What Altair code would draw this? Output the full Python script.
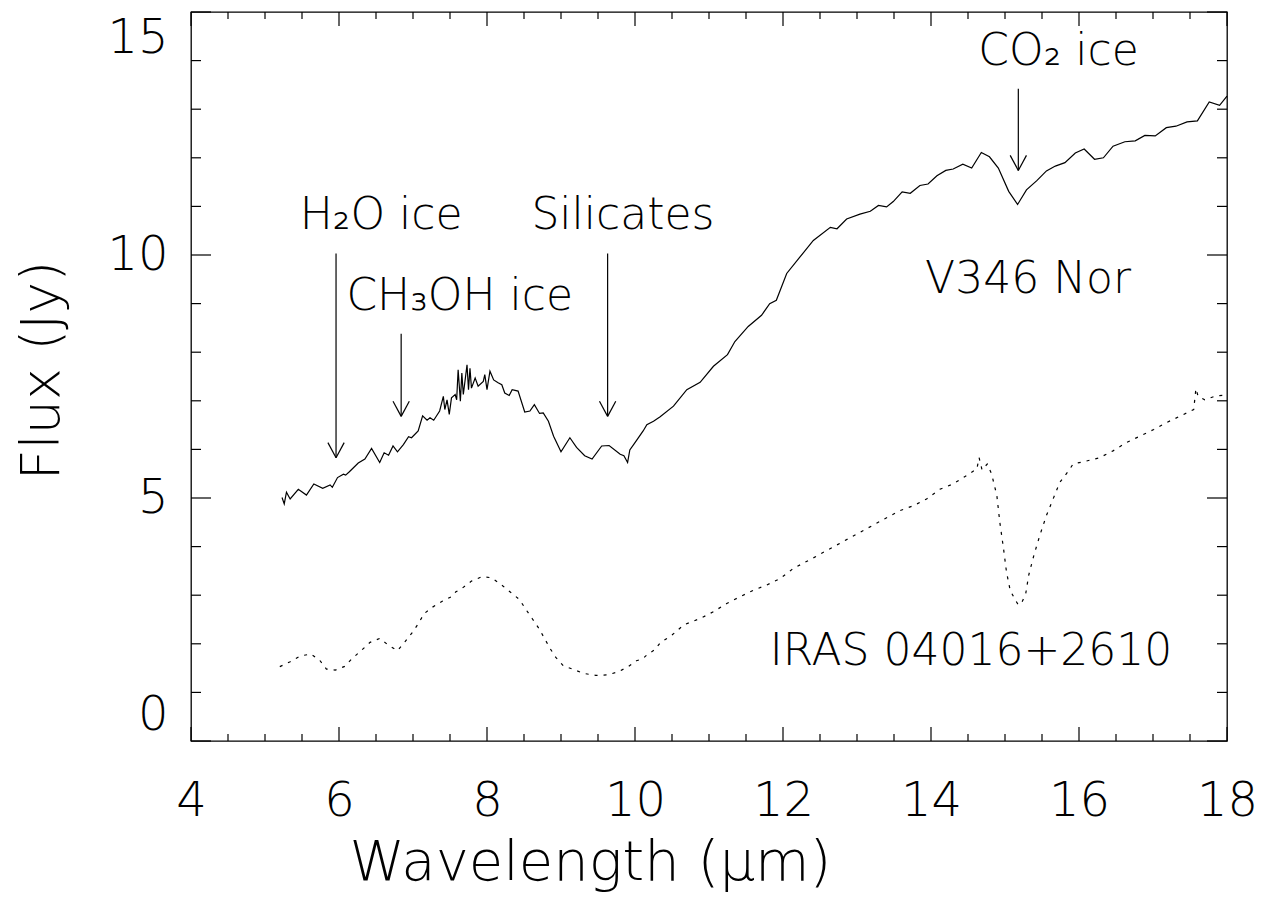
import altair as alt
import pandas as pd

# ---------------- data ----------------
v346_wl = [5.23, 5.26, 5.29, 5.34, 5.45, 5.56, 5.66, 5.78, 5.88, 5.91, 5.98, 6.06, 6.09, 6.14,
           6.26, 6.35, 6.44, 6.55, 6.61, 6.67, 6.73, 6.79, 6.87, 6.94, 6.98, 7.07, 7.13, 7.19,
           7.23, 7.28, 7.36, 7.41, 7.43, 7.46, 7.49, 7.52, 7.57, 7.59, 7.61, 7.64, 7.66, 7.68,
           7.73, 7.75, 7.77, 7.79, 7.84, 7.88, 7.95, 7.97, 8.00, 8.04, 8.09, 8.15, 8.20, 8.24,
           8.30, 8.34, 8.42, 8.51, 8.58, 8.64, 8.71, 8.76, 8.83, 8.90, 9.00, 9.12, 9.21, 9.32,
           9.42, 9.55, 9.65, 9.80, 9.85, 9.90, 9.93, 10.00, 10.11, 10.16, 10.25, 10.34, 10.52,
           10.70, 10.88, 11.06, 11.25, 11.35, 11.53, 11.71, 11.82, 11.91, 12.05, 12.23, 12.41,
           12.64, 12.73, 12.86, 13.04, 13.18, 13.29, 13.40, 13.49, 13.61, 13.72, 13.85, 13.96,
           14.08, 14.20, 14.30, 14.43, 14.55, 14.68, 14.79, 14.91, 15.05, 15.17, 15.29, 15.43,
           15.56, 15.68, 15.81, 15.95, 16.07, 16.21, 16.33, 16.46, 16.62, 16.76, 16.89, 17.03,
           17.18, 17.31, 17.46, 17.60, 17.76, 17.90, 18.00]
v346_flux = [5.01, 4.88, 5.12, 4.98, 5.18, 5.06, 5.29, 5.20, 5.27, 5.22, 5.42, 5.49, 5.47, 5.54,
             5.72, 5.80, 6.02, 5.73, 5.93, 5.88, 6.07, 5.95, 6.10, 6.26, 6.24, 6.38, 6.69, 6.60,
             6.65, 6.60, 6.79, 7.09, 6.82, 7.02, 6.72, 7.06, 7.13, 7.02, 7.64, 6.99, 7.57, 7.13,
             7.74, 7.23, 7.67, 7.26, 7.47, 7.30, 7.40, 7.54, 7.23, 7.61, 7.43, 7.37, 7.33, 7.16,
             7.11, 7.23, 7.20, 6.77, 6.79, 6.92, 6.74, 6.75, 6.58, 6.27, 5.95, 6.24, 6.04, 5.87,
             5.80, 6.07, 6.08, 5.90, 5.87, 5.73, 5.99, 6.14, 6.38, 6.51, 6.58, 6.67, 6.89,
             7.23, 7.38, 7.71, 7.95, 8.22, 8.53, 8.76, 9.00, 9.07, 9.62, 9.96, 10.30,
             10.57, 10.54, 10.74, 10.84, 10.90, 11.02, 10.99, 11.10, 11.30, 11.27, 11.43, 11.46,
             11.63, 11.74, 11.77, 11.87, 11.79, 12.11, 12.02, 11.79, 11.31, 11.04, 11.34, 11.53,
             11.73, 11.83, 11.90, 12.10, 12.18, 11.97, 12.00, 12.24, 12.33, 12.35, 12.46, 12.45,
             12.62, 12.65, 12.74, 12.76, 13.15, 13.08, 13.27]

iras_wl = [5.20, 5.34, 5.48, 5.62, 5.74, 5.83, 5.95, 6.07, 6.18, 6.30, 6.42, 6.55, 6.67, 6.79,
           6.89, 6.99, 7.07, 7.15, 7.27, 7.40, 7.52, 7.58, 7.67, 7.79, 7.93, 8.06, 8.19, 8.31,
           8.44, 8.52, 8.61, 8.70, 8.77, 8.85, 8.93, 9.03, 9.17, 9.31, 9.47, 9.62, 9.77, 9.91,
           10.02, 10.11, 10.16, 10.27, 10.34, 10.50, 10.66, 10.88, 11.06, 11.24, 11.42, 11.60,
           11.78, 11.96, 12.14, 12.40, 12.70, 13.00, 13.30, 13.58, 13.76, 13.94, 14.12, 14.30,
           14.48, 14.62, 14.65, 14.69, 14.76, 14.82, 14.89, 14.93, 14.98, 15.02, 15.07, 15.14,
           15.18, 15.23, 15.28, 15.32, 15.39, 15.47, 15.56, 15.65, 15.74, 15.86, 15.92, 16.10,
           16.28, 16.46, 16.64, 16.82, 17.01, 17.18, 17.36, 17.55, 17.58, 17.61, 17.70, 17.85,
           18.00]
iras_flux = [1.53, 1.63, 1.75, 1.79, 1.66, 1.48, 1.46, 1.53, 1.70, 1.86, 2.03, 2.11, 1.97, 1.86,
             2.04, 2.23, 2.41, 2.62, 2.76, 2.88, 2.97, 3.07, 3.15, 3.29, 3.38, 3.36, 3.22, 3.07,
             2.91, 2.72, 2.52, 2.32, 2.13, 1.91, 1.72, 1.55, 1.47, 1.39, 1.35, 1.36, 1.42, 1.53,
             1.65, 1.70, 1.77, 1.88, 2.02, 2.18, 2.39, 2.52, 2.66, 2.83, 2.97, 3.10,
             3.21, 3.34, 3.55, 3.76, 4.01, 4.26, 4.51, 4.74, 4.84, 4.98, 5.18, 5.29,
             5.46, 5.60, 5.83, 5.58, 5.70, 5.49, 5.05, 4.50, 3.96, 3.48, 3.10, 2.90,
             2.80, 2.86, 3.03, 3.41, 3.82, 4.23, 4.64, 4.98, 5.32, 5.56, 5.70, 5.76,
             5.83, 5.97, 6.14, 6.27, 6.41, 6.55, 6.68, 6.82, 7.25, 7.09, 7.02, 7.10,
             7.12]

x_major = [4, 6, 8, 10, 12, 14, 16, 18]
x_minor = [4.5, 5, 5.5, 6.5, 7, 7.5, 8.5, 9, 9.5, 10.5, 11, 11.5, 12.5, 13, 13.5,
           14.5, 15, 15.5, 16.5, 17, 17.5]
y_major = [0, 5, 10, 15]
y_minor = [1, 2, 3, 4, 6, 7, 8, 9, 11, 12, 13, 14]

arrow_x = [5.96, 6.84, 9.63, 15.18]
arrow_top = [10.03, 8.38, 10.03, 13.42]
arrow_tip = [5.83, 6.68, 6.68, 11.74]

label_text = ["H\u2082O ice", "CH\u2083OH ice", "Silicates", "CO\u2082 ice", "V346 Nor", "IRAS 04016+2610"]
label_x = [5.47, 6.10, 8.60, 14.64, 13.92, 11.82]
label_y = [10.54, 8.87, 10.54, 13.91, 9.21, 1.56]

# ---------------- layout ----------------
W, H = 1036, 729
FONT = "DejaVu Sans"
FW = 200

xs = alt.Scale(domain=[4, 18], nice=False, zero=False)
ys = alt.Scale(domain=[0, 15], nice=False, zero=True)

v346 = pd.DataFrame({"wl": v346_wl, "flux": v346_flux})
iras = pd.DataFrame({"wl": iras_wl, "flux": iras_flux})

xaxis = alt.Axis(values=x_major, ticks=False, domain=False, grid=False,
                 labelFont=FONT, labelFontSize=48, labelFontWeight=FW, labelColor="black",
                 labelPadding=36, labelFlush=False,
                 title="Wavelength (\u03bcm)", titleFont=FONT, titleFontSize=56,
                 titleFontWeight=FW, titleColor="black", titleX=399, titleY=138,
                 titleAlign="center", titleBaseline="alphabetic")
yaxis = alt.Axis(values=y_major, ticks=False, domain=False, grid=False,
                 labelFont=FONT, labelFontSize=48, labelFontWeight=FW, labelColor="black",
                 labelPadding=23, labelFlush=True, labelFlushOffset=-2,
                 title="Flux (Jy)", titleFont=FONT, titleFontSize=54,
                 titleFontWeight=FW, titleColor="black", titleX=-133, titleY=358,
                 titleAngle=270, titleAlign="center", titleBaseline="alphabetic")


def X(field):
    return alt.X(field, scale=xs, axis=xaxis)


def Y(field):
    return alt.Y(field, scale=ys, axis=yaxis)


line_v346 = alt.Chart(v346).mark_line(color="black", strokeWidth=1.2).encode(
    x=X("wl:Q"), y=Y("flux:Q"), order="wl:Q",
)
line_iras = alt.Chart(iras).mark_line(color="black", strokeWidth=1.2, strokeDash=[3, 6]).encode(
    x=X("wl:Q"), y=Y("flux:Q"), order="wl:Q",
)

# arrows: shaft + two head wings
segs = []
for ax, at, tip in zip(arrow_x, arrow_top, arrow_tip):
    segs.append({"wl": ax, "wl2": ax, "flux": at, "flux2": tip})
    segs.append({"wl": ax - 0.11, "wl2": ax, "flux": tip + 0.31, "flux2": tip})
    segs.append({"wl": ax + 0.11, "wl2": ax, "flux": tip + 0.31, "flux2": tip})
arrows = alt.Chart(pd.DataFrame(segs)).mark_rule(color="black", strokeWidth=1.2).encode(
    x=X("wl:Q"), x2="wl2:Q", y=Y("flux:Q"), y2="flux2:Q",
)

labels = alt.Chart(pd.DataFrame({"t": label_text, "wl": label_x, "flux": label_y})).mark_text(
    font=FONT, fontSize=44, fontWeight=FW, color="black", align="left", baseline="alphabetic"
).encode(
    x=X("wl:Q"), y=Y("flux:Q"), text="t:N",
)


# inward ticks on all four sides
def xticks(vals, length):
    d = pd.DataFrame({"wl": vals})
    bottom = alt.Chart(d).mark_rule(color="black", strokeWidth=1.2).encode(
        x=X("wl:Q"), y=alt.value(H), y2=alt.value(H - length))
    top = alt.Chart(d).mark_rule(color="black", strokeWidth=1.2).encode(
        x=X("wl:Q"), y=alt.value(0), y2=alt.value(length))
    return [bottom, top]


def yticks(vals, length):
    d = pd.DataFrame({"flux": vals})
    left = alt.Chart(d).mark_rule(color="black", strokeWidth=1.2).encode(
        y=Y("flux:Q"), x=alt.value(0), x2=alt.value(length))
    right = alt.Chart(d).mark_rule(color="black", strokeWidth=1.2).encode(
        y=Y("flux:Q"), x=alt.value(W), x2=alt.value(W - length))
    return [left, right]


tick_layers = xticks(x_major, 14) + xticks(x_minor, 7) + yticks(y_major, 20) + yticks(y_minor, 10)

chart = alt.layer(line_v346, line_iras, arrows, labels, *tick_layers).properties(
    width=W, height=H,
    autosize=alt.AutoSizeParams(type="none"),
    padding={"left": 183, "top": 4, "right": 30, "bottom": 155},
    background="white",
).configure_view(stroke="black", strokeWidth=1.3)

chart.save("out.html", embed_options={"renderer": "svg", "actions": False})
